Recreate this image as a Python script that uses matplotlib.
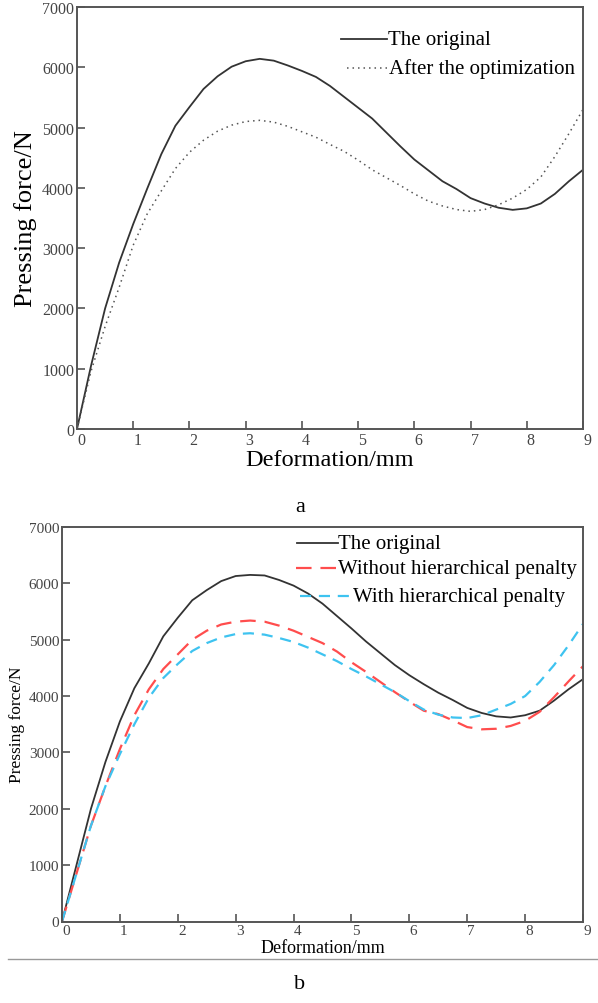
import numpy as np
import matplotlib
matplotlib.use("Agg")
import matplotlib.pyplot as plt
import matplotlib.transforms as mtransforms
from matplotlib.lines import Line2D

plt.rcParams['font.family'] = ['Liberation Serif', 'DejaVu Serif']

# deformation grid (mm)
deform = [0, 0.25, 0.5, 0.75, 1.0, 1.25, 1.5, 1.75, 2.0, 2.25, 2.5, 2.75, 3.0,
          3.25, 3.5, 3.75, 4.0, 4.25, 4.5, 4.75, 5.0, 5.25, 5.5, 5.75, 6.0,
          6.25, 6.5, 6.75, 7.0, 7.25, 7.5, 7.75, 8.0, 8.25, 8.5, 8.75, 9.0]

# panel a
original_a = [0, 1050, 2000, 2760, 3400, 3990, 4560, 5030, 5340, 5640, 5850,
              6010, 6100, 6140, 6110, 6030, 5940, 5840, 5690, 5510, 5330,
              5150, 4920, 4690, 4470, 4290, 4110, 3980, 3830, 3740, 3670,
              3635, 3660, 3740, 3900, 4110, 4300]
optimized_a = [0, 960, 1700, 2350, 3050, 3570, 3950, 4320, 4590, 4790, 4940,
               5040, 5100, 5120, 5090, 5020, 4930, 4840, 4720, 4606, 4460,
               4300, 4170, 4040, 3900, 3780, 3700, 3640, 3610, 3640, 3720,
               3830, 3974, 4180, 4520, 4900, 5300]

# panel b
original_b = [0, 1000, 2000, 2830, 3550, 4140, 4580, 5060, 5390, 5700, 5880,
              6040, 6130, 6150, 6140, 6060, 5960, 5820, 5640, 5420, 5200,
              4970, 4760, 4550, 4370, 4210, 4060, 3930, 3790, 3700, 3640,
              3620, 3660, 3740, 3920, 4120, 4300]
without_pen = [0, 850, 1700, 2400, 3060, 3660, 4120, 4480, 4740, 5000, 5160,
               5270, 5320, 5340, 5320, 5250, 5160, 5050, 4940, 4790, 4600,
               4430, 4250, 4070, 3900, 3740, 3680, 3570, 3450, 3410, 3420,
               3470, 3560, 3720, 3980, 4260, 4530]
with_pen = [0, 850, 1700, 2400, 2970, 3500, 3970, 4320, 4570, 4800, 4940,
            5040, 5100, 5115, 5090, 5030, 4960, 4860, 4740, 4620, 4480,
            4350, 4210, 4070, 3910, 3760, 3670, 3620, 3610, 3660, 3760,
            3860, 4000, 4250, 4550, 4900, 5280]

x_ticks = np.arange(0, 10, 1)
y_ticks = np.arange(0, 8000, 1000)

W, H = 598, 1004
fig = plt.figure(figsize=(W / 100, H / 100), dpi=100)

spine_col = '#555555'
tick_col = '#444444'


def style_axes(ax, label_size):
    ax.set_xlim(0, 9)
    ax.set_ylim(0, 7000)
    ax.set_xticks(x_ticks)
    ax.set_yticks(y_ticks)
    for s in ax.spines.values():
        s.set_color(spine_col)
        s.set_linewidth(1.4)
    ax.tick_params(direction='in', length=6, width=1.2, color=spine_col,
                   labelcolor=tick_col, labelsize=label_size, pad=2)
    off = mtransforms.ScaledTranslation(4 / 100, 0, fig.dpi_scale_trans)
    for lab in ax.get_xticklabels():
        lab.set_transform(lab.get_transform() + off)


# ---- panel a ----
ax1 = fig.add_axes([77 / W, 1 - 430 / H, 506 / W, 422 / H])
style_axes(ax1, 11.5)
ax1.plot(deform, original_a, color='#333333', lw=1.3)
ax1.plot(deform, optimized_a, color='#555555', lw=1.1, ls=(0, (1, 2.6)))
ax1.set_xlabel('Deformation/mm', fontsize=17.5, labelpad=1)
ax1.set_ylabel('Pressing force/N', fontsize=19, labelpad=4)

ax1.add_line(Line2D([0.522, 0.613], [0.924, 0.924], transform=ax1.transAxes,
                    color='#333333', lw=1.3))
ax1.text(0.615, 0.924, 'The original', transform=ax1.transAxes,
         fontsize=15, va='center', ha='left')
ax1.add_line(Line2D([0.534, 0.613], [0.855, 0.855], transform=ax1.transAxes,
                    color='#555555', lw=1.1, ls=(0, (1, 2.6))))
ax1.text(0.617, 0.855, 'After the optimization', transform=ax1.transAxes,
         fontsize=15, va='center', ha='left')

# ---- panel b ----
ax2 = fig.add_axes([62 / W, 1 - 922.5 / H, 521 / W, 394.5 / H])
style_axes(ax2, 11)
ax2.plot(deform, original_b, color='#333333', lw=1.3)
ax2.plot(deform, without_pen, color='#ff4d4d', lw=1.6, ls=(0, (7, 4)))
ax2.plot(deform, with_pen, color='#3ec3f0', lw=1.6, ls=(0, (5, 3.5)))
ax2.set_xlabel('Deformation/mm', fontsize=13, labelpad=1)
ax2.set_ylabel('Pressing force/N', fontsize=12.5, labelpad=3)

ax2.add_line(Line2D([0.451, 0.530], [0.959, 0.959], transform=ax2.transAxes,
                    color='#333333', lw=1.3))
ax2.text(0.530, 0.959, 'The original', transform=ax2.transAxes,
         fontsize=15, va='center', ha='left')
ax2.add_line(Line2D([0.449, 0.528], [0.896, 0.896], transform=ax2.transAxes,
                    color='#ff4d4d', lw=1.6, ls=(0, (7, 4))))
ax2.text(0.530, 0.896, 'Without hierarchical penalty', transform=ax2.transAxes,
         fontsize=15, va='center', ha='left')
ax2.add_line(Line2D([0.457, 0.557], [0.825, 0.825], transform=ax2.transAxes,
                    color='#3ec3f0', lw=1.6, ls=(0, (5, 3.5))))
ax2.text(0.559, 0.825, 'With hierarchical penalty', transform=ax2.transAxes,
         fontsize=15, va='center', ha='left')

# captions and separator
fig.text(300 / W, 1 - 508 / H, 'a', fontsize=16, ha='center', va='center')
fig.text(300 / W, 1 - 985 / H, 'b', fontsize=16, ha='center', va='center')
fig.add_artist(Line2D([8 / W, 1.0], [1 - 960 / H, 1 - 960 / H],
                      transform=fig.transFigure, color='#999999', lw=1))

fig.savefig('out.png', dpi=100)
